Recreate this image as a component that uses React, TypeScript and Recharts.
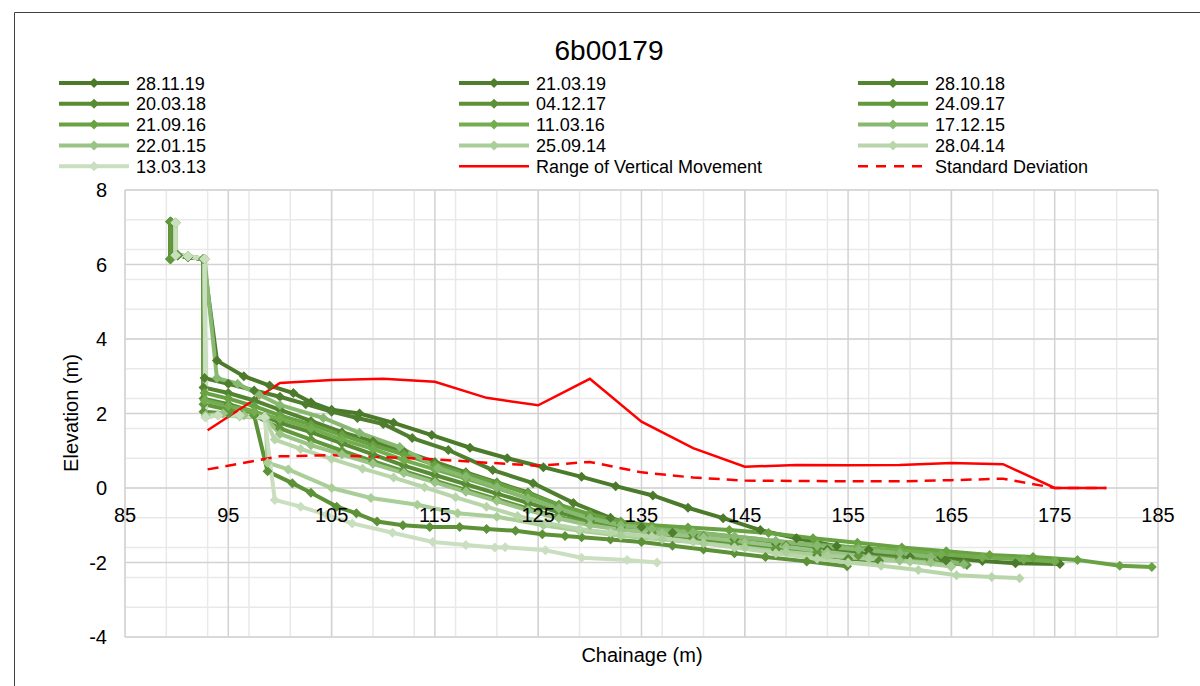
import { LineChart, Line, XAxis, YAxis, CartesianGrid } from "recharts";

const FONT = "'Liberation Sans', Arial, sans-serif";

const surveyDates = [
  "28.11.19", "21.03.19", "28.10.18", "20.03.18", "04.12.17", "24.09.17", "21.09.16",
  "11.03.16", "17.12.15", "22.01.15", "25.09.14", "28.04.14", "13.03.13",
];
const surveyColors = [
  "#4B7A2B", "#4F7F2E", "#538531", "#578B34", "#5C9137", "#61983B", "#69A243",
  "#74AD4F", "#88B971", "#9AC485", "#AACE98", "#B9D6AB", "#CADFBF",
];

// [chainage, elevation] per survey
const s281119 = [[89.4, 7.15], [89.4, 6.15], [90.1, 6.25], [91.1, 6.2], [92.6, 6.15], [93.9, 3.42], [96.5, 3.0], [99, 2.75], [101.3, 2.55], [103, 2.3], [105, 2.1], [107.7, 2.0], [111, 1.75], [114.7, 1.42], [118.4, 1.08], [122, 0.8], [125.5, 0.56], [129.2, 0.3], [132.5, 0.05], [136.1, -0.2], [139.5, -0.53], [142.9, -0.81], [146.5, -1.13], [150, -1.35], [153.9, -1.56], [157, -1.66], [160, -1.76], [164, -1.86], [168, -1.96], [171.2, -2.02], [175.5, -2.04]];
const s210319 = [[89.4, 7.15], [89.4, 6.15], [90.1, 6.25], [91.1, 6.2], [92.6, 6.15], [92.7, 2.95], [95, 2.8], [97.5, 2.62], [100, 2.45], [102.5, 2.25], [105, 2.05], [107.5, 1.88], [110, 1.72], [112.8, 1.34], [116.3, 1.02], [120.6, 0.48], [124.5, 0.13], [128.4, -0.4], [132, -0.8], [135, -1.05], [138, -1.2], [141, -1.3], [145, -1.45], [149, -1.55], [153, -1.65], [157, -1.75], [161, -1.85], [164.5, -1.95]];
const s281018 = [[89.4, 7.15], [89.4, 6.15], [90.1, 6.25], [91.1, 6.2], [92.6, 6.15], [92.6, 2.7], [95, 2.55], [97.5, 2.35], [100, 2.1], [103, 1.8], [106, 1.5], [109, 1.25], [112, 0.98], [115, 0.7], [118, 0.42], [121, 0.15], [124, -0.12], [127, -0.45], [130, -0.75], [133, -0.95], [136, -1.1], [140, -1.25], [144, -1.38], [148, -1.5], [152, -1.62], [156, -1.72], [160, -1.82], [163, -1.9], [166.2, -2.0]];
const s200318 = [[89.4, 7.15], [89.4, 6.15], [90.1, 6.25], [91.1, 6.2], [92.6, 6.15], [92.6, 2.4], [95, 2.25], [97.5, 2.05], [100, 1.75], [103, 1.5], [106, 1.2], [109, 0.9], [112, 0.6], [115, 0.35], [118, 0.1], [121, -0.15], [124, -0.4], [127, -0.65], [130, -0.88], [133, -1.05], [136, -1.2], [140, -1.35], [144, -1.5], [148, -1.65], [152, -1.8], [155, -1.9], [158, -1.95]];
const s041217 = [[89.4, 7.15], [89.4, 6.15], [90.1, 6.25], [91.1, 6.2], [92.6, 6.15], [92.6, 2.05], [95, 2.0], [97.5, 1.95], [98.8, 0.45], [101.2, 0.13], [103, -0.13], [105.5, -0.5], [107.4, -0.68], [109.4, -0.9], [111.9, -1.0], [114.5, -1.05], [117.4, -1.05], [120, -1.1], [122.8, -1.15], [125.4, -1.24], [127.6, -1.29], [129.2, -1.32], [132, -1.38], [135, -1.45], [138, -1.55], [141, -1.65], [144, -1.75], [147, -1.85], [151, -1.97], [154.9, -2.1]];
const s240917 = [[89.4, 7.15], [89.4, 6.15], [90.1, 6.25], [91.1, 6.2], [92.6, 6.15], [92.6, 2.25], [95, 2.1], [97.5, 1.95], [100, 1.6], [103, 1.3], [106, 1.0], [109, 0.72], [112, 0.45], [115, 0.2], [118, -0.05], [121, -0.3], [124, -0.55], [127, -0.78], [130, -0.95], [133, -1.1], [136, -1.2], [140, -1.35], [144, -1.5], [148, -1.62], [152, -1.72], [156, -1.82], [160, -1.9], [163, -1.95], [166.5, -2.07]];
const s210916 = [[89.9, 7.12], [89.9, 6.25], [91.1, 6.22], [92.7, 6.15], [92.7, 2.55], [95, 2.4], [97.5, 2.2], [100, 1.95], [103, 1.7], [106, 1.42], [109, 1.15], [112, 0.9], [115, 0.62], [118, 0.38], [121, 0.12], [124, -0.15], [127, -0.45], [130, -0.7], [133, -0.9], [136, -1.0], [139.5, -1.06], [143.5, -1.13], [147.3, -1.21], [151.6, -1.35], [155.9, -1.47], [160.2, -1.6], [164.5, -1.7], [168.7, -1.8], [172.9, -1.85], [177.2, -1.93], [181.3, -2.09], [184.4, -2.12]];
const s110316 = [[89.9, 7.12], [89.9, 6.25], [91.1, 6.22], [92.7, 6.15], [92.7, 2.35], [95, 2.2], [97.5, 2.05], [100, 1.85], [103, 1.6], [106, 1.3], [109, 1.05], [112, 0.75], [115, 0.5], [118, 0.25], [121, 0.0], [124, -0.28], [127, -0.55], [130, -0.8], [133, -0.98], [136, -1.08], [140, -1.18], [144, -1.3], [148, -1.42], [152, -1.52], [156, -1.6], [160, -1.68], [164, -1.78], [168, -1.86], [172, -1.92], [175, -1.97]];
const s171215 = [[89.9, 7.12], [89.9, 6.25], [91.1, 6.22], [92.7, 6.15], [93.9, 2.95], [95.9, 2.8], [98, 2.5], [100, 2.23], [104.2, 1.88], [107.7, 1.48], [111.6, 1.1], [115.3, 0.54], [118, 0.3], [121, 0.02], [124, -0.28], [127, -0.55], [130, -0.82], [133, -1.0], [136, -1.1], [140, -1.2], [144, -1.3], [148, -1.42], [152, -1.55], [156, -1.65], [160, -1.75], [163, -1.85], [166.2, -2.05]];
const s220115 = [[89.9, 7.12], [89.9, 6.25], [91.1, 6.22], [92.7, 6.15], [92.8, 1.95], [94.5, 2.0], [96.5, 1.95], [98.5, 1.9], [100, 1.45], [103, 1.15], [106, 0.9], [109, 0.65], [112, 0.4], [115, 0.15], [118, -0.1], [121, -0.35], [124, -0.6], [127, -0.82], [130, -1.0], [133, -1.12], [137, -1.22], [141, -1.32], [145, -1.45], [149, -1.58], [153, -1.72], [157, -1.85], [160, -1.95], [163, -2.0], [165, -2.1]];
const s250914 = [[89.9, 7.12], [89.9, 6.25], [91.1, 6.22], [92.7, 6.15], [92.8, 1.9], [94, 1.95], [96.1, 1.92], [98.6, 1.88], [98.8, 0.68], [100.8, 0.5], [105, 0.0], [108.8, -0.27], [113.3, -0.45], [117.2, -0.68], [121, -0.77], [125.5, -1.0], [129, -1.15], [133, -1.28], [137, -1.38], [141, -1.48], [145, -1.6], [149, -1.72], [153, -1.82], [157, -1.9], [161, -1.98], [164.9, -2.1]];
const s280414 = [[89.9, 7.12], [89.9, 6.25], [91.1, 6.22], [92.7, 6.15], [92.8, 1.9], [94, 1.95], [96.1, 1.95], [98.5, 1.9], [99.5, 1.3], [102, 1.05], [105, 0.78], [108, 0.52], [111, 0.28], [114, 0.02], [117, -0.25], [120, -0.5], [123, -0.75], [126, -0.95], [129, -1.1], [132, -1.2], [136, -1.3], [140, -1.45], [144, -1.6], [148, -1.75], [152, -1.9], [155, -2.0], [158.2, -2.09], [161.8, -2.2], [165.5, -2.34], [168.9, -2.39], [171.6, -2.42]];
const s130313 = [[89.9, 7.12], [89.9, 6.25], [91.1, 6.22], [92.7, 6.15], [92.8, 1.9], [94, 1.95], [96.1, 1.95], [98.5, 1.9], [99.5, -0.32], [102, -0.5], [104.5, -0.72], [107, -0.95], [110.9, -1.2], [114.8, -1.45], [118, -1.53], [120.8, -1.6], [121.8, -1.59], [125.7, -1.67], [129.2, -1.87], [133.6, -1.93], [136.5, -2.0]];

const surveys = [s281119, s210319, s281018, s200318, s041217, s240917, s210916, s110316, s171215, s220115, s250914, s280414, s130313];

const summaryChainage = [93, 100, 105, 110, 115, 120, 125, 130, 135, 140, 145, 150, 155, 160, 165, 170, 175, 180];
const rangeOfMovement = [1.55, 2.82, 2.9, 2.93, 2.85, 2.42, 2.22, 2.93, 1.78, 1.07, 0.57, 0.62, 0.61, 0.62, 0.67, 0.64, 0, 0];
const standardDeviation = [0.5, 0.85, 0.88, 0.83, 0.77, 0.68, 0.6, 0.7, 0.42, 0.28, 0.2, 0.19, 0.18, 0.18, 0.21, 0.25, 0, 0];

const xTicks = [85, 95, 105, 115, 125, 135, 145, 155, 165, 175, 185];
const yTicks = [-4, -2, 0, 2, 4, 6, 8];

const toPoints = (pairs: number[][]) => pairs.map(([x, y]) => ({ x, y }));
const rangeData = summaryChainage.map((x, i) => ({ x, y: rangeOfMovement[i] }));
const sdData = summaryChainage.map((x, i) => ({ x, y: standardDeviation[i] }));

const minorX: number[] = [];
for (let v = 85; v <= 185; v += 2) minorX.push(v);
const minorY: number[] = [];
for (let v = -4; v <= 8.001; v += 0.4) minorY.push(Math.round(v * 10) / 10);

const diamond = (color: string) => (p: any) => {
  const { cx, cy, index } = p;
  if (cx == null || cy == null) return <g key={`n-${index}`} />;
  const r = 5;
  return <path key={`d-${index}`} d={`M${cx},${cy - r}L${cx + r},${cy}L${cx},${cy + r}L${cx - r},${cy}Z`} fill={color} />;
};

const XTick = (p: any) => (
  <text x={p.x} y={522} textAnchor="middle" fontSize={20} fill="#000" fontFamily={FONT}>
    {p.payload.value}
  </text>
);

type LegendItem = { label: string; color: string; kind: "marker" | "solid" | "dash" };
const legendItems: LegendItem[] = [
  ...surveyDates.map((d, i) => ({ label: d, color: surveyColors[i], kind: "marker" as const })),
  { label: "Range of Vertical Movement", color: "#FF0000", kind: "solid" },
  { label: "Standard Deviation", color: "#FF0000", kind: "dash" },
];
const legendCols = [59, 459, 858];
const legendRow0 = 83;
const legendRowStep = 20.8;

function Overlay() {
  return (
    <svg width={1200} height={686} style={{ position: "absolute", left: 0, top: 0, pointerEvents: "none" }}>
      <line x1={14.5} y1={12.5} x2={1200} y2={12.5} stroke="#404040" />
      <line x1={14.5} y1={12.5} x2={14.5} y2={686} stroke="#404040" />
      <text x={609} y={60} textAnchor="middle" fontSize={28} fill="#000" fontFamily={FONT}>6b00179</text>
      {legendItems.map((it, i) => {
        const cx = legendCols[i % 3];
        const cy = legendRow0 + Math.floor(i / 3) * legendRowStep;
        return (
          <g key={it.label}>
            {it.kind === "dash" ? (
              <line x1={cx} y1={cy} x2={cx + 70} y2={cy} stroke={it.color} strokeWidth={2.5} strokeDasharray="10 8" />
            ) : (
              <line x1={cx} y1={cy} x2={cx + 70} y2={cy} stroke={it.color} strokeWidth={it.kind === "solid" ? 2.5 : 4} />
            )}
            {it.kind === "marker" && (
              <path d={`M${cx + 35},${cy - 5}L${cx + 40},${cy}L${cx + 35},${cy + 5}L${cx + 30},${cy}Z`} fill={it.color} />
            )}
            <text x={cx + 77} y={cy + 6.5} fontSize={18} fill="#000" fontFamily={FONT}>{it.label}</text>
          </g>
        );
      })}
      <text x={78} y={413} textAnchor="middle" fontSize={20} fill="#000" fontFamily={FONT} transform="rotate(-90 78 413)">
        Elevation (m)
      </text>
      <text x={642} y={662} textAnchor="middle" fontSize={20} fill="#000" fontFamily={FONT}>Chainage (m)</text>
    </svg>
  );
}

export default function App() {
  return (
    <div style={{ position: "absolute", left: 0, top: 0, width: 1200, height: 686, background: "#fff" }}>
      <LineChart width={1200} height={686} margin={{ top: 190, right: 42, bottom: 0, left: 0 }}>
        <CartesianGrid horizontalValues={minorY} verticalValues={minorX} stroke="#e9e9e9" strokeWidth={1.5} />
        <CartesianGrid stroke="#d2d2d2" strokeWidth={1.5} />
        <XAxis type="number" dataKey="x" domain={[85, 185]} ticks={xTicks} tick={<XTick />} tickLine={false} axisLine={false} height={49} allowDataOverflow />
        <YAxis type="number" domain={[-4, 8]} ticks={yTicks} width={125} tickLine={false} axisLine={false} tickSize={0} tickMargin={18}
          tick={{ fontSize: 20, fill: "#000", fontFamily: FONT }} allowDataOverflow />
        {surveys.map((s, i) => (
          <Line key={surveyDates[i]} data={toPoints(s)} dataKey="y" name={surveyDates[i]} type="linear"
            stroke={surveyColors[i]} strokeWidth={4} dot={diamond(surveyColors[i])} activeDot={false} isAnimationActive={false} />
        ))}
        <Line data={rangeData} dataKey="y" name="Range of Vertical Movement" type="linear" stroke="#FF0000" strokeWidth={2.5}
          dot={false} activeDot={false} isAnimationActive={false} />
        <Line data={sdData} dataKey="y" name="Standard Deviation" type="linear" stroke="#FF0000" strokeWidth={2.5} strokeDasharray="11 7"
          dot={false} activeDot={false} isAnimationActive={false} />
      </LineChart>
      <Overlay />
    </div>
  );
}
